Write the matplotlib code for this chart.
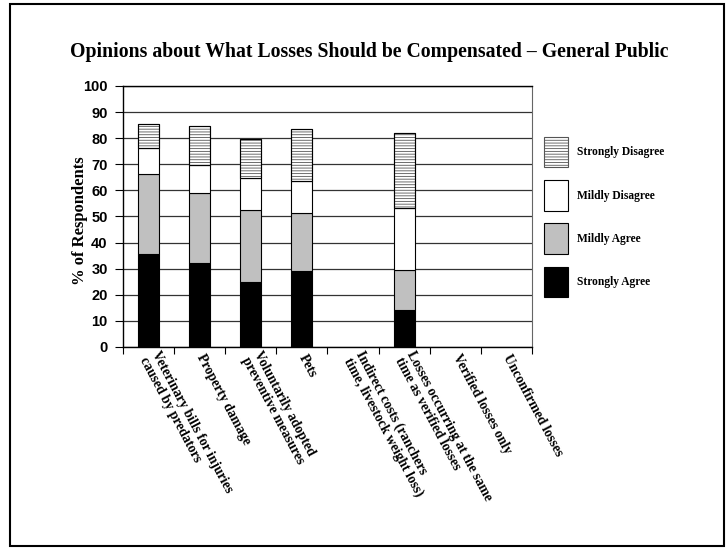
import matplotlib
matplotlib.use("Agg")
import matplotlib.pyplot as plt
from matplotlib.patches import Rectangle
import numpy as np

categories = [
    "Veterinary bills for injuries\ncaused by predators",
    "Property damage",
    "Voluntarily adopted\npreventive measures",
    "Pets",
    "Indirect costs (ranchers\ntime, livestock weight loss)",
    "Losses occurring at the same\ntime as verified losses",
    "Verified losses only",
    "Unconfirmed losses",
]
strongly_agree = [35.5, 32.1, 25.0, 29.2, 0, 14.0, 0, 0]
mildly_agree = [30.8, 26.8, 27.5, 22.3, 0, 15.6, 0, 0]
mildly_disagree = [10.1, 10.7, 12.4, 12.0, 0, 23.8, 0, 0]
strongly_disagree = [9.2, 15.1, 14.8, 20.0, 0, 28.7, 0, 0]
series_names = ["Strongly Agree", "Mildly Agree", "Mildly Disagree", "Strongly Disagree"]

plt.rcParams['hatch.linewidth'] = 0.6
serif = "Liberation Serif"
sans = "Liberation Sans"

fig = plt.figure(figsize=(7.26, 5.48), dpi=100)
ax = fig.add_axes([0.1694, 0.3668, 0.5634, 0.4763])

# cadre autour de la figure
fig.patches.append(Rectangle((10 / 726, 2 / 548), 714 / 726, 542 / 548, transform=fig.transFigure,
                             fill=False, edgecolor="black", linewidth=1.5))

x = np.arange(len(categories))
w = 0.41
bottom = np.zeros(len(categories))
styles = [
    dict(color="black"),
    dict(color="#c0c0c0"),
    dict(color="white"),
    dict(color="white", hatch="------"),
]
series = [strongly_agree, mildly_agree, mildly_disagree, strongly_disagree]
handles = []
for vals, name, st in zip(series, series_names, styles):
    vals = np.array(vals)
    mask = vals > 0
    b = ax.bar(x[mask], vals[mask], w, bottom=bottom[mask], edgecolor="black", linewidth=0.8,
               label=name, **st)
    if "hatch" in st:
        for p in b.patches:
            p.set_edgecolor("#555555")
        ax.bar(x[mask], vals[mask], w, bottom=bottom[mask], fill=False, edgecolor="black", linewidth=0.8)
    handles.append(b)
    bottom = bottom + vals

ax.set_ylim(0, 100)
ax.set_xlim(-0.5, len(categories) - 0.5)
ax.set_yticks(np.arange(0, 101, 10))
ax.yaxis.grid(True, color="#333333", linewidth=0.9)
ax.set_axisbelow(True)
for lab in ax.get_yticklabels():
    lab.set_fontfamily(sans)
    lab.set_fontweight("bold")
    lab.set_fontsize(10.5)
ax.tick_params(axis="y", direction="out", length=6, width=0.8, pad=5)

ax.set_xticks(x)
ax.set_xticklabels(categories, rotation=-62, ha="left", va="center", rotation_mode="anchor",
                   fontfamily=serif, fontweight="bold", fontsize=9.8, linespacing=1.0)
ax.tick_params(axis="x", which="major", length=0, pad=6)
ax.set_xticks(np.arange(-0.5, len(categories), 1.0), minor=True)
ax.tick_params(axis="x", which="minor", direction="out", length=5, width=0.8)

for s in ["left", "bottom", "top"]:
    ax.spines[s].set_linewidth(1.0)
ax.spines["right"].set_color("#666666")

ax.set_ylabel("% of Respondents", fontfamily=serif, fontweight="bold", fontsize=12)
ax.yaxis.set_label_coords(-0.086, 0.483)
fig.text(0.509, 0.905, "Opinions about What Losses Should be Compensated \u2013 General Public",
         ha="center", va="center", fontfamily=serif, fontweight="bold", fontsize=14.2)

leg = ax.legend(handles[::-1], series_names[::-1], loc="upper left",
                bbox_to_anchor=(1.029, 0.805), bbox_transform=ax.transAxes,
                frameon=False, prop=dict(family=serif, weight="bold", size=8.3),
                handlelength=2.1, handleheight=3.7, labelspacing=1.1, handletextpad=0.8,
                borderaxespad=0.0, borderpad=0.0)
for h in leg.legend_handles:
    h.set_edgecolor("black")
    h.set_linewidth(0.8)
leg.legend_handles[0].set_edgecolor("#555555")

fig.savefig("out.png", dpi=100)
